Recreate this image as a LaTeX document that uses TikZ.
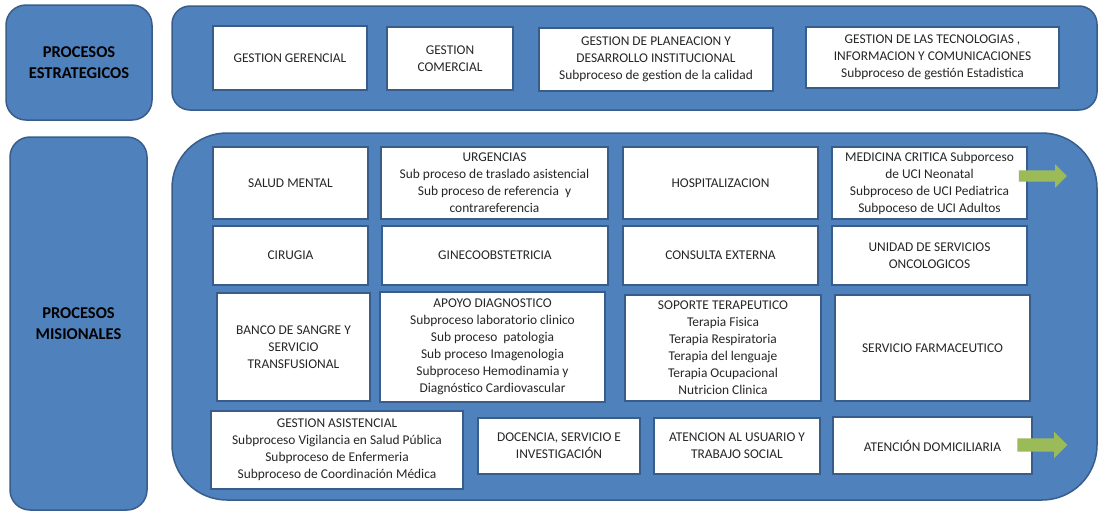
\documentclass[tikz,border=0pt]{standalone}
\usepackage{fontspec}
\setmainfont{Carlito}
\usetikzlibrary{shapes.arrows}
\definecolor{bfill}{HTML}{4F81BD}
\definecolor{bline}{HTML}{385D8A}
\definecolor{agreen}{HTML}{9BBB59}
\begin{document}
\begin{tikzpicture}[x=1pt,y=-1pt,
  outer/.style={draw=bline, fill=bfill, line width=1.5pt, rounded corners=#1, inner sep=0pt},
  wbox/.style={draw=bline, fill=white, line width=1.5pt, align=center, inner sep=0pt, font=\fontsize{13.4}{17}\selectfont, text=black!85},
  lbl/.style={font=\bfseries\fontsize{16.5}{21}\selectfont, align=center},
  garrow/.style={single arrow, fill=agreen, draw=none, inner xsep=0pt, single arrow tip angle=90}
]
\useasboundingbox (0,0) rectangle (1110,517);
% containers
\node[outer=20pt, minimum width=146pt, minimum height=115pt, lbl] (lstr) at (79,62.5) {PROCESOS\\ESTRATEGICOS};
\node[outer=18pt, minimum width=925pt, minimum height=104pt] (tstr) at (634.5,58) {};
\node[outer=20pt, minimum width=137pt, minimum height=373pt, lbl] (lmis) at (78.5,323.5) {PROCESOS\\MISIONALES};
\node[outer=55pt, minimum width=925pt, minimum height=367pt] (tmis) at (634.5,316.5) {};
% strategic
\node[wbox, minimum width=154pt, minimum height=64pt] (gg) at (290,58) {GESTION GERENCIAL};
\node[wbox, minimum width=126pt, minimum height=63pt] (gc) at (450,58.5) {GESTION\\COMERCIAL};
\node[wbox, minimum width=234pt, minimum height=63pt] (gp) at (656,59.5) {GESTION DE PLANEACION Y\\DESARROLLO INSTITUCIONAL\\Subproceso de gestion de la calidad};
\node[wbox, minimum width=253pt, minimum height=61pt] (gt) at (932.5,57.5) {GESTION DE LAS TECNOLOGIAS ,\\INFORMACION Y COMUNICACIONES\\Subproceso de gestión Estadistica};
% misional row 1
\node[wbox, minimum width=155pt, minimum height=72pt] (sm) at (290.5,183) {SALUD MENTAL};
\node[wbox, minimum width=227pt, minimum height=72pt] (ur) at (494.5,183) {URGENCIAS\\Sub proceso de traslado asistencial\\Sub proceso de referencia\ \ y\\contrareferencia};
\node[wbox, minimum width=195pt, minimum height=72pt] (ho) at (720.5,183) {HOSPITALIZACION};
\node[wbox, minimum width=195pt, minimum height=72pt] (mc) at (929.5,183) {MEDICINA CRITICA Subporceso\\de UCI Neonatal\\Subproceso de UCI Pediatrica\\Subpoceso de UCI Adultos};
% row 2
\node[wbox, minimum width=155pt, minimum height=59pt] (ci) at (290.5,255.5) {CIRUGIA};
\node[wbox, minimum width=226pt, minimum height=59pt] (gi) at (495,255.5) {GINECOOBSTETRICIA};
\node[wbox, minimum width=195pt, minimum height=59pt] (ce) at (720.5,255.5) {CONSULTA EXTERNA};
\node[wbox, minimum width=195pt, minimum height=59pt] (un) at (929.5,255.5) {UNIDAD DE SERVICIOS\\ONCOLOGICOS};
% row 3
\node[wbox, minimum width=153pt, minimum height=108pt] (bs) at (293.5,347) {BANCO DE SANGRE Y\\SERVICIO\\TRANSFUSIONAL};
\node[wbox, minimum width=225pt, minimum height=110pt] (ad) at (492.5,347) {APOYO DIAGNOSTICO\\Subproceso laboratorio clinico\\Sub proceso\ \ patologia\\Sub proceso Imagenologia\\Subproceso Hemodinamia y\\Diagnóstico Cardiovascular};
\node[wbox, minimum width=196pt, minimum height=106pt] (st) at (723,348) {SOPORTE TERAPEUTICO\\Terapia Fisica\\Terapia Respiratoria\\Terapia del lenguaje\\Terapia Ocupacional\\Nutricion Clinica};
\node[wbox, minimum width=195pt, minimum height=106pt] (sf) at (932.5,348) {SERVICIO FARMACEUTICO};
% row 4
\node[wbox, minimum width=252pt, minimum height=78pt] (ga) at (337,450) {GESTION ASISTENCIAL\\Subproceso Vigilancia en Salud Pública\\Subproceso de Enfermeria\\Subproceso de Coordinación Médica};
\node[wbox, minimum width=162pt, minimum height=56pt] (dc) at (559,446) {DOCENCIA, SERVICIO E\\INVESTIGACIÓN};
\node[wbox, minimum width=166pt, minimum height=56pt] (au) at (737,446) {ATENCION AL USUARIO Y\\TRABAJO SOCIAL};
\node[wbox, minimum width=199pt, minimum height=57pt] (dm) at (932.5,445.5) {ATENCIÓN DOMICILIARIA};
% arrows
\node[garrow, inner ysep=5.5pt, minimum height=48pt, single arrow head extend=6pt] (a1) at (1040,176) {};
\node[garrow, inner ysep=6.5pt, minimum height=50pt, single arrow head extend=6.5pt] (a2) at (1039,445) {};
\end{tikzpicture}
\end{document}
